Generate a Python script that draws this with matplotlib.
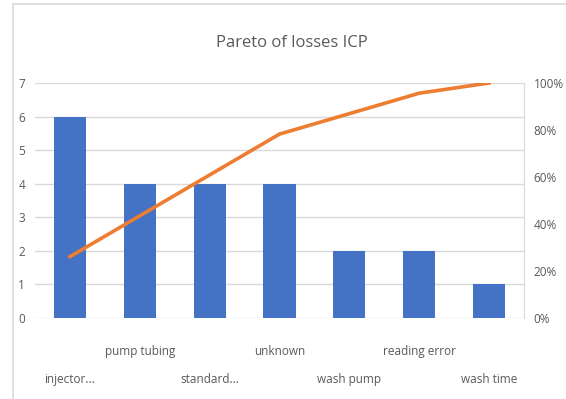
import matplotlib.pyplot as plt
from matplotlib.lines import Line2D
from matplotlib.ticker import PercentFormatter

plt.rcParams['font.family'] = ['Open Sans', 'DejaVu Sans']

causes = ['injector...', 'pump tubing', 'standard...', 'unknown',
          'wash pump', 'reading error', 'wash time']
counts = [6, 4, 4, 4, 2, 2, 1]

# cumulative percentage for the pareto line
total = sum(counts)
cum_pct = []
running = 0
for c in counts:
    running += c
    cum_pct.append(running / total * 100)

text_grey = '#595959'
grid_grey = '#d9d9d9'

fig = plt.figure(figsize=(5.66, 3.99), dpi=100)
ax = fig.add_axes([0.0618, 0.203, 0.864, 0.589])

x = list(range(len(causes)))
ax.bar(x, counts, width=0.46, color='#4472C4', zorder=2)
ax.set_xlim(-0.5, len(causes) - 0.5)
ax.set_ylim(0, 7)
ax.set_yticks(range(0, 8))
ax.grid(axis='y', color=grid_grey, linewidth=1, zorder=0)
for s in ['top', 'left', 'bottom']:
    ax.spines[s].set_visible(False)
ax.spines['right'].set_color(grid_grey)
ax.tick_params(axis='both', length=0, colors=text_grey, labelsize=8.5)
ax.tick_params(axis='y', pad=7)

ax.set_xticks(x)
ax.set_xticklabels(causes)
for i, t in enumerate(ax.xaxis.get_major_ticks()):
    t.set_pad(39.5 if i % 2 == 0 else 19.5)

ax2 = ax.twinx()
ax2.plot(x, cum_pct, color='#ED7D31', linewidth=2.6, zorder=3)
ax2.set_ylim(0, 100)
ax2.set_yticks(range(0, 101, 20))
ax2.yaxis.set_major_formatter(PercentFormatter(decimals=0))
for s in ax2.spines.values():
    s.set_visible(False)
ax2.tick_params(axis='y', length=0, colors=text_grey, labelsize=8.5, pad=7)

fig.text(0.515, 0.893, 'Pareto of losses ICP', ha='center', va='center',
         fontsize=12, color=text_grey)

# chart frame (partly cropped)
fig.add_artist(Line2D([13 / 566, 1], [1 - 4 / 399, 1 - 4 / 399],
                      color=grid_grey, linewidth=1.2))
fig.add_artist(Line2D([13 / 566, 13 / 566], [0, 1 - 4 / 399],
                      color=grid_grey, linewidth=1.2))

fig.savefig('out.png', dpi=100)
